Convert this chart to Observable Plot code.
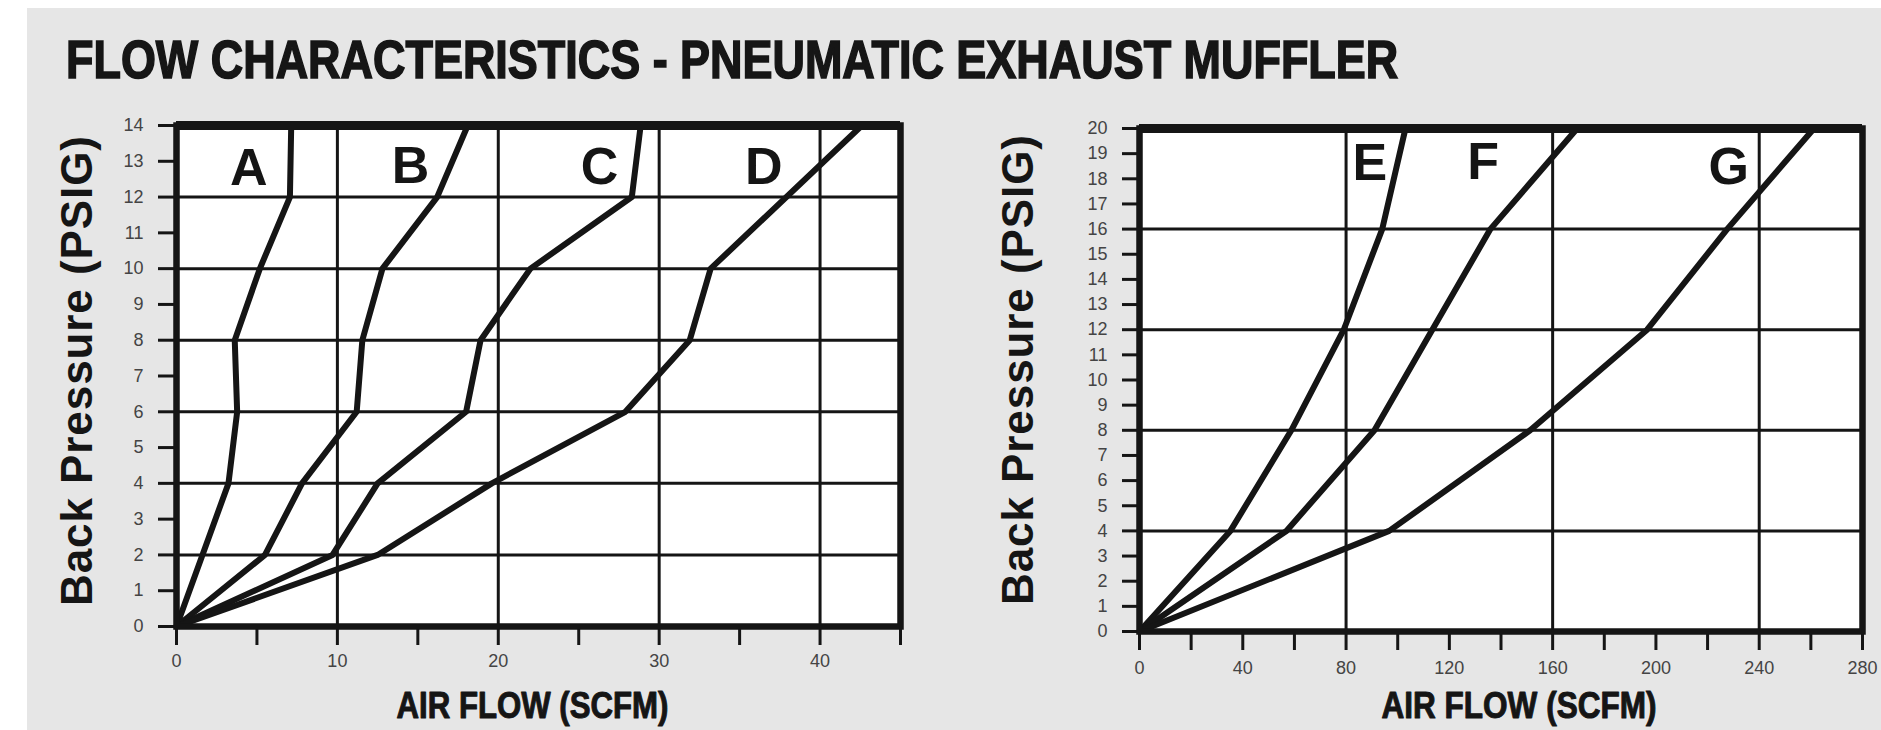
<!DOCTYPE html>
<html>
<head>
<meta charset="utf-8">
<script src="https://cdn.jsdelivr.net/npm/d3@7"></script>
<script src="https://cdn.jsdelivr.net/npm/@observablehq/plot@0.6"></script>
<style>
  html, body { margin: 0; padding: 0; background: #ffffff; }
  #page { position: relative; width: 1881px; height: 730px; overflow: hidden; background: #ffffff; }
  #panel { position: absolute; left: 27px; top: 8px; right: 0; bottom: 0; background: #e6e6e6; }
  #title { position: absolute; left: 66px; top: 33px; margin: 0; font-family: "Liberation Sans", Arial, sans-serif; font-weight: bold; font-size: 53px; line-height: 53px; color: #161616; -webkit-text-stroke: 1.6px #161616; white-space: nowrap; transform-origin: 0 0; }
  .chart { position: absolute; top: 0; }
  .chart svg { display: block; }
</style>
</head>
<body>
<div id="page">
  <div id="panel"></div>
  <div id="title">FLOW CHARACTERISTICS - PNEUMATIC EXHAUST MUFFLER</div>
  <div class="chart" id="left" style="left:0px"></div>
  <div class="chart" id="right" style="left:940px"></div>
</div>
<script>
// ---------- Data ----------
// Left chart: air flow (SCFM) vs back pressure (PSIG)
const pressureA = [0, 4, 6, 8, 10, 12, 14];
const flowA     = [0, 3.23, 3.77, 3.62, 5.18, 7.05, 7.13];
const pressureB = [0, 2, 4, 6, 8, 10, 12, 14];
const flowB     = [0, 5.5, 7.8, 11.2, 11.55, 12.8, 16.2, 18.1];
const pressureC = [0, 2, 4, 6, 8, 10, 12, 14];
const flowC     = [0, 9.7, 12.5, 18.0, 18.9, 22.0, 28.3, 28.85];
const pressureD = [0, 2, 4, 6, 8, 10, 14];
const flowD     = [0, 12.5, 19.6, 27.9, 31.9, 33.2, 42.6];

// Right chart
const pressureE = [0, 4, 8, 12, 16, 20];
const flowE     = [0, 35.2, 58.8, 79.1, 94, 103];
const pressureF = [0, 4, 8, 12, 16, 20];
const flowF     = [0, 56.9, 91, 113.4, 135.9, 169.5];
const pressureG = [0, 4, 8, 12, 16, 20];
const flowG     = [0, 96.7, 151.3, 196.6, 227.6, 261.2];

// Curve letters and their positions
const leftLetters  = ["A", "B", "C", "D"];
const leftLetterX  = [4.49, 14.54, 26.3, 36.5];
const leftLetterY  = [12.79, 12.87, 12.83, 12.83];
const rightLetters = ["E", "F", "G"];
const rightLetterX = [89.2, 133.1, 228.2];
const rightLetterY = [18.6, 18.66, 18.46];

// Axes / ticks / grid
const leftXDomain  = [0, 45];
const leftYDomain  = [0, 14];
const leftXMinor   = [5, 15, 25, 35, 45];
const leftXLabels  = [0, 10, 20, 30, 40];
const leftYTicks   = d3.range(0, 15);
const leftGridX    = [10, 20, 30, 40];
const leftGridY    = [2, 4, 6, 8, 10, 12];

const rightXDomain = [0, 280];
const rightYDomain = [0, 20];
const rightXMinor  = [20, 60, 100, 140, 180, 220, 260];
const rightXLabels = [0, 40, 80, 120, 160, 200, 240, 280];
const rightYTicks  = d3.range(0, 21);
const rightGridX   = [80, 160, 240];
const rightGridY   = [4, 8, 12, 16];

const titleText = "FLOW CHARACTERISTICS - PNEUMATIC EXHAUST MUFFLER";
const yTitle = "Back Pressure (PSIG)";
const xTitle = "AIR FLOW (SCFM)";

// ---------- Build tables ----------
function series(name, flows, pressures) {
  return flows.map((f, i) => ({curve: name, flow: f, pressure: pressures[i]}));
}
const leftData = [
  ...series("A", flowA, pressureA),
  ...series("B", flowB, pressureB),
  ...series("C", flowC, pressureC),
  ...series("D", flowD, pressureD)
];
const rightData = [
  ...series("E", flowE, pressureE),
  ...series("F", flowF, pressureF),
  ...series("G", flowG, pressureG)
];
const leftLabelData = leftLetters.map((t, i) => ({t, x: leftLetterX[i], y: leftLetterY[i]}));
const rightLabelData = rightLetters.map((t, i) => ({t, x: rightLetterX[i], y: rightLetterY[i]}));

const INK = "#151515";
const TICKTEXT = "#444444";
const SANS = "'Liberation Sans', Arial, Helvetica, sans-serif";

function chart(o) {
  const svg = Plot.plot({
    width: o.width,
    height: 730,
    marginLeft: o.ml, marginRight: o.mr, marginTop: o.mt, marginBottom: o.mb,
    style: {background: "transparent", fontFamily: SANS, overflow: "visible"},
    x: {domain: o.xDomain},
    y: {domain: o.yDomain},
    marks: [
      Plot.frame({fill: "white", stroke: null}),
      Plot.ruleX(o.gridX, {stroke: INK, strokeWidth: 3}),
      Plot.ruleY(o.gridY, {stroke: INK, strokeWidth: 3}),
      Plot.axisY({ticks: o.yTicks, tickSize: o.yTickSize, tickPadding: 15, fontSize: o.fontSize,
                  label: null, stroke: INK, strokeWidth: 3, fill: TICKTEXT}),
      Plot.axisX({ticks: o.xLabels, tickSize: o.xTickSize, tickPadding: o.xPad, fontSize: o.fontSize,
                  label: null, stroke: INK, strokeWidth: 3, fill: TICKTEXT}),
      Plot.axisX({ticks: o.xMinor, tickSize: o.xTickSize, label: null, stroke: INK, strokeWidth: 3, fill: "none"}),
      Plot.line(o.data, {x: "flow", y: "pressure", z: "curve", stroke: INK, strokeWidth: 6,
                         strokeLinejoin: "round", strokeLinecap: "round"}),
      Plot.frame({stroke: INK, strokeWidth: 6.5}),
      Plot.ruleY([o.yDomain[1]], {stroke: INK, strokeWidth: 9}),
      Plot.text(o.letters, {x: "x", y: "y", text: "t", fontSize: 52, fontWeight: "bold",
                            fontFamily: SANS, fill: INK}),
      Plot.text([yTitle], {frameAnchor: "left", dx: o.yTitleDx, dy: o.yTitleDy, rotate: -90,
                           textAnchor: "middle", lineAnchor: "middle",
                           fontSize: 44, fontWeight: "bold", fontFamily: SANS, fill: INK}),
      Plot.text([xTitle], {frameAnchor: "bottom", dx: o.xTitleDx, dy: o.xTitleDy,
                           textAnchor: "middle", lineAnchor: "middle",
                           fontSize: 36, fontWeight: "bold", fontFamily: SANS, fill: INK,
                           stroke: INK, strokeWidth: 1})
    ]
  });
  // condense / track the titles to the widths seen in the reference
  d3.select(svg).selectAll("text").each(function() {
    if (this.textContent === xTitle) {
      this.setAttribute("textLength", o.xTitleLen);
      this.setAttribute("lengthAdjust", "spacingAndGlyphs");
    } else if (this.textContent === yTitle) {
      this.setAttribute("textLength", o.yTitleLen);
      this.setAttribute("lengthAdjust", "spacing");
    }
  });
  return svg;
}

document.getElementById("left").append(chart({
  width: 940, ml: 176, mr: 40, mt: 125, mb: 104,
  xDomain: leftXDomain, yDomain: leftYDomain,
  gridX: leftGridX, gridY: leftGridY,
  xMinor: leftXMinor, xLabels: leftXLabels, yTicks: leftYTicks,
  yTickSize: 18, xTickSize: 19, xPad: 9, fontSize: 18,
  data: leftData, letters: leftLabelData,
  yTitleDx: -99, yTitleDy: -5, xTitleDx: -6, xTitleDy: 80,
  xTitleLen: 272, yTitleLen: 470
}));

document.getElementById("right").append(chart({
  width: 941, ml: 199, mr: 19, mt: 128, mb: 99,
  xDomain: rightXDomain, yDomain: rightYDomain,
  gridX: rightGridX, gridY: rightGridY,
  xMinor: rightXMinor, xLabels: rightXLabels, yTicks: rightYTicks,
  yTickSize: 17, xTickSize: 19, xPad: 11, fontSize: 18,
  data: rightData, letters: rightLabelData,
  yTitleDx: -121, yTitleDy: -10, xTitleDx: 18, xTitleDy: 75,
  xTitleLen: 275, yTitleLen: 470
}));

// fit the condensed title to the reference width
const title = document.getElementById("title");
title.textContent = titleText;
const natural = title.scrollWidth;
title.style.transform = `scaleX(${1332 / natural})`;
</script>
</body>
</html>
